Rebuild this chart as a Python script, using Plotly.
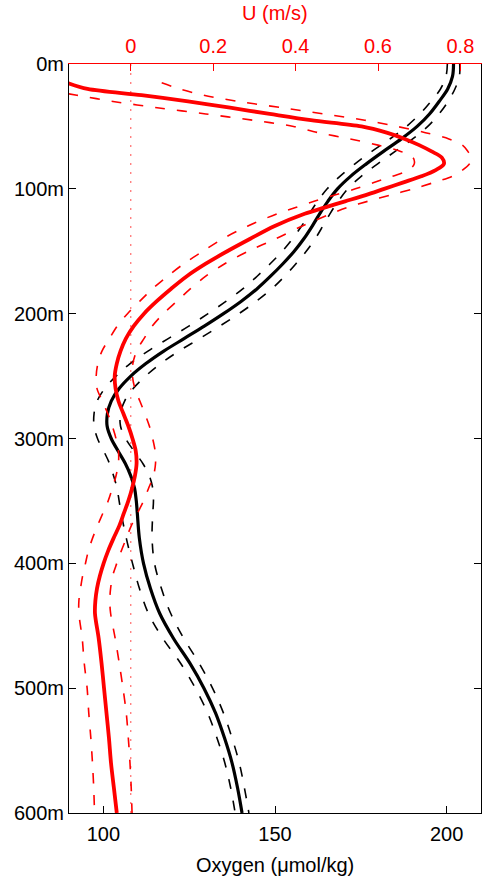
import plotly.graph_objects as go

# ---------------- data ----------------
depth_u = [15, 20, 25, 30, 35, 40, 45, 50, 55, 60, 65, 70, 75, 80, 85, 90, 95, 100, 105, 110, 115, 120,
           130, 140, 150, 160, 170, 180, 190, 200, 210, 220, 230, 240, 250, 260, 270, 280, 290, 300,
           310, 320, 330, 340, 350, 360, 370, 380, 390, 400, 410, 420, 430, 440, 460, 480, 500, 520,
           540, 560, 580, 600]
u_mean = [-0.155, -0.105, 0.026, 0.139, 0.241, 0.337, 0.437, 0.56, 0.621, 0.665, 0.70, 0.73, 0.755, 0.76,
          0.74, 0.705, 0.66, 0.615, 0.57, 0.52, 0.47, 0.422,
          0.348, 0.29, 0.234, 0.182, 0.136, 0.098, 0.063, 0.032, 0.007, -0.012, -0.025, -0.034, -0.039,
          -0.037, -0.03, -0.018, -0.006, 0.004,
          0.012, 0.014, 0.01, 0.003, -0.006, -0.017, -0.028, -0.042, -0.055, -0.066, -0.075, -0.082,
          -0.086, -0.087, -0.078, -0.071, -0.065, -0.059, -0.053, -0.048, -0.041, -0.034]
u_hi = [0.075, 0.119, 0.177, 0.262, 0.366, 0.467, 0.568, 0.646, 0.715, 0.772, 0.805, 0.818, 0.827, 0.822,
        0.805, 0.78, 0.735, 0.686, 0.63, 0.575, 0.525, 0.485,
        0.415, 0.352, 0.285, 0.228, 0.182, 0.145, 0.112, 0.079, 0.052, 0.032, 0.014, 0.005, 0.004,
        0.01, 0.022, 0.034, 0.045, 0.053,
        0.059, 0.06, 0.055, 0.043, 0.031, 0.016, 0.001, -0.011, -0.023, -0.034, -0.044, -0.049,
        -0.051, -0.049, -0.038, -0.028, -0.019, -0.011, -0.006, -0.002, 0.001, 0.003]
u_lo = [-0.31, -0.22, -0.131, -0.043, 0.064, 0.182, 0.295, 0.395, 0.455, 0.532, 0.60, 0.655, 0.685, 0.688,
        0.675, 0.634, 0.59, 0.545, 0.495, 0.445, 0.40, 0.355,
        0.283, 0.223, 0.175, 0.129, 0.089, 0.053, 0.022, -0.008, -0.033, -0.052, -0.07, -0.08, -0.084,
        -0.082, -0.069, -0.056, -0.045, -0.036,
        -0.03, -0.03, -0.036, -0.045, -0.055, -0.068, -0.081, -0.093, -0.103, -0.11, -0.117, -0.122,
        -0.126, -0.126, -0.118, -0.113, -0.106, -0.102, -0.097, -0.093, -0.09, -0.088]

depth_o = [0, 10, 20, 30, 40, 50, 60, 70, 80, 90, 100, 110, 120, 130, 140, 150, 160, 170, 180, 190, 200,
           210, 220, 230, 240, 250, 260, 270, 280, 290, 300, 310, 320, 330, 340, 350, 360, 380, 400,
           420, 440, 460, 480, 500, 520, 540, 560, 580, 600]
o_mean = [202, 201.7, 200.3, 197.8, 195.0, 191.4, 186.8, 181.6, 176.6, 172.0, 168.2, 165.4, 163.0, 160.8,
          158.4, 155.6, 152.3, 148.7, 144.8, 140.2, 135.0, 129.4, 123.5, 117.6, 112.4, 108.0, 104.6,
          102.3, 101.2, 101.1, 102.3, 104.3, 106.4, 108.0, 109.1, 109.6, 109.9, 110.5, 111.7, 113.7,
          116.4, 120.4, 125.2, 129.3, 132.7, 135.3, 137.5, 139.1, 140.4]
o_lo = [200.2, 199.8, 198.2, 195.4, 192.2, 188.3, 183.5, 178.2, 173.3, 168.9, 165.2, 162.4, 160.0, 157.7,
        155.1, 152.1, 148.6, 144.8, 140.7, 135.8, 130.5, 124.9, 118.9, 113.0, 107.8, 103.7, 100.4,
        98.2, 97.3, 97.3, 98.3, 100.1, 101.8, 103.0, 104.0, 104.6, 105.2, 106.7, 108.5, 110.5,
        113.1, 117.3, 122.5, 126.8, 130.4, 133.1, 135.4, 137.1, 138.4]
o_hi = [203.8, 203.7, 202.4, 200.4, 197.8, 194.5, 190.1, 185.0, 179.9, 175.1, 171.2, 168.4, 166.0, 163.9,
        161.7, 159.1, 156.1, 152.8, 149.1, 144.6, 139.5, 133.9, 128.0, 122.0, 116.7, 112.3, 108.7,
        106.2, 105.0, 105.0, 106.5, 108.9, 111.5, 113.4, 114.4, 114.6, 114.4, 114.2, 114.9, 116.9,
        119.6, 123.4, 127.9, 131.8, 135.0, 137.5, 139.6, 141.1, 142.4]

depth_ticks = [0, 100, 200, 300, 400, 500, 600]
depth_labels = [f"{d}m" for d in depth_ticks]
o_ticks = [100, 150, 200]
u_ticks = [0, 0.2, 0.4, 0.6, 0.8]
u_labels = ["0", "0.2", "0.4", "0.6", "0.8"]
zero_u = [0, 0]
zero_depth = [0, 600]

RED = "#ff0000"
FONT = "Liberation Sans, Arial, Helvetica, sans-serif"
DASH = "10px,12px"

fig = go.Figure()

# oxygen (bottom axis, black)
for arr in (o_lo, o_hi):
    fig.add_trace(go.Scatter(x=arr, y=depth_o, mode="lines", xaxis="x", yaxis="y",
                             line=dict(color="black", width=1.6, dash=DASH, shape="spline", smoothing=1.0),
                             hoverinfo="skip", showlegend=False))
fig.add_trace(go.Scatter(x=o_mean, y=depth_o, mode="lines", xaxis="x", yaxis="y",
                         line=dict(color="black", width=3.2, shape="spline", smoothing=1.0),
                         showlegend=False))

# zonal velocity (top axis, red)
fig.add_trace(go.Scatter(x=zero_u, y=zero_depth, mode="lines", xaxis="x2", yaxis="y",
                         line=dict(color="rgba(255,0,0,0.7)", width=1, dash="2px,7px"),
                         hoverinfo="skip", showlegend=False))
for arr in (u_lo, u_hi):
    fig.add_trace(go.Scatter(x=arr, y=depth_u, mode="lines", xaxis="x2", yaxis="y",
                             line=dict(color=RED, width=1.6, dash=DASH, shape="spline", smoothing=0.9),
                             hoverinfo="skip", showlegend=False))
fig.add_trace(go.Scatter(x=u_mean, y=depth_u, mode="lines", xaxis="x2", yaxis="y",
                         line=dict(color=RED, width=3.8, shape="spline", smoothing=0.9),
                         showlegend=False))

fig.update_layout(
    width=482, height=878,
    margin=dict(l=69, r=1, t=64, b=65),
    paper_bgcolor="white", plot_bgcolor="white",
    font=dict(family=FONT, size=20, color="black"),
    xaxis=dict(range=[90, 210], tickvals=o_ticks, ticks="inside", ticklen=7, tickcolor="black",
               showline=True, linecolor="black", linewidth=1, showgrid=False, zeroline=False,
               tickfont=dict(size=20, color="black"), mirror=False, ticklabelstandoff=3),
    xaxis2=dict(range=[-0.15, 0.85], overlaying="x", side="top", anchor="y",
                tickvals=u_ticks, ticktext=u_labels, ticks="inside", ticklen=7, tickcolor=RED,
                showline=True, linecolor=RED, linewidth=1, showgrid=False, zeroline=False,
                tickfont=dict(size=20, color=RED), ticklabelstandoff=2),
    yaxis=dict(range=[600, 0], tickvals=depth_ticks, ticktext=depth_labels, ticks="inside",
               ticklen=7, tickcolor="black", showline=True, linecolor="black", linewidth=1,
               mirror="ticks", showgrid=False, zeroline=False, tickfont=dict(size=20, color="black")),
    annotations=[
        dict(text="U (m/s)", xref="paper", yref="paper", x=0.5, y=1.068, showarrow=False,
             xanchor="center", yanchor="middle", font=dict(size=20, color=RED, family=FONT)),
        dict(text="Oxygen (\u03bcmol/kg)", xref="paper", yref="paper", x=0.5, y=-0.0695,
             showarrow=False, xanchor="center", yanchor="middle",
             font=dict(size=20, color="black", family=FONT)),
    ],
)

fig.write_html("out.html")
